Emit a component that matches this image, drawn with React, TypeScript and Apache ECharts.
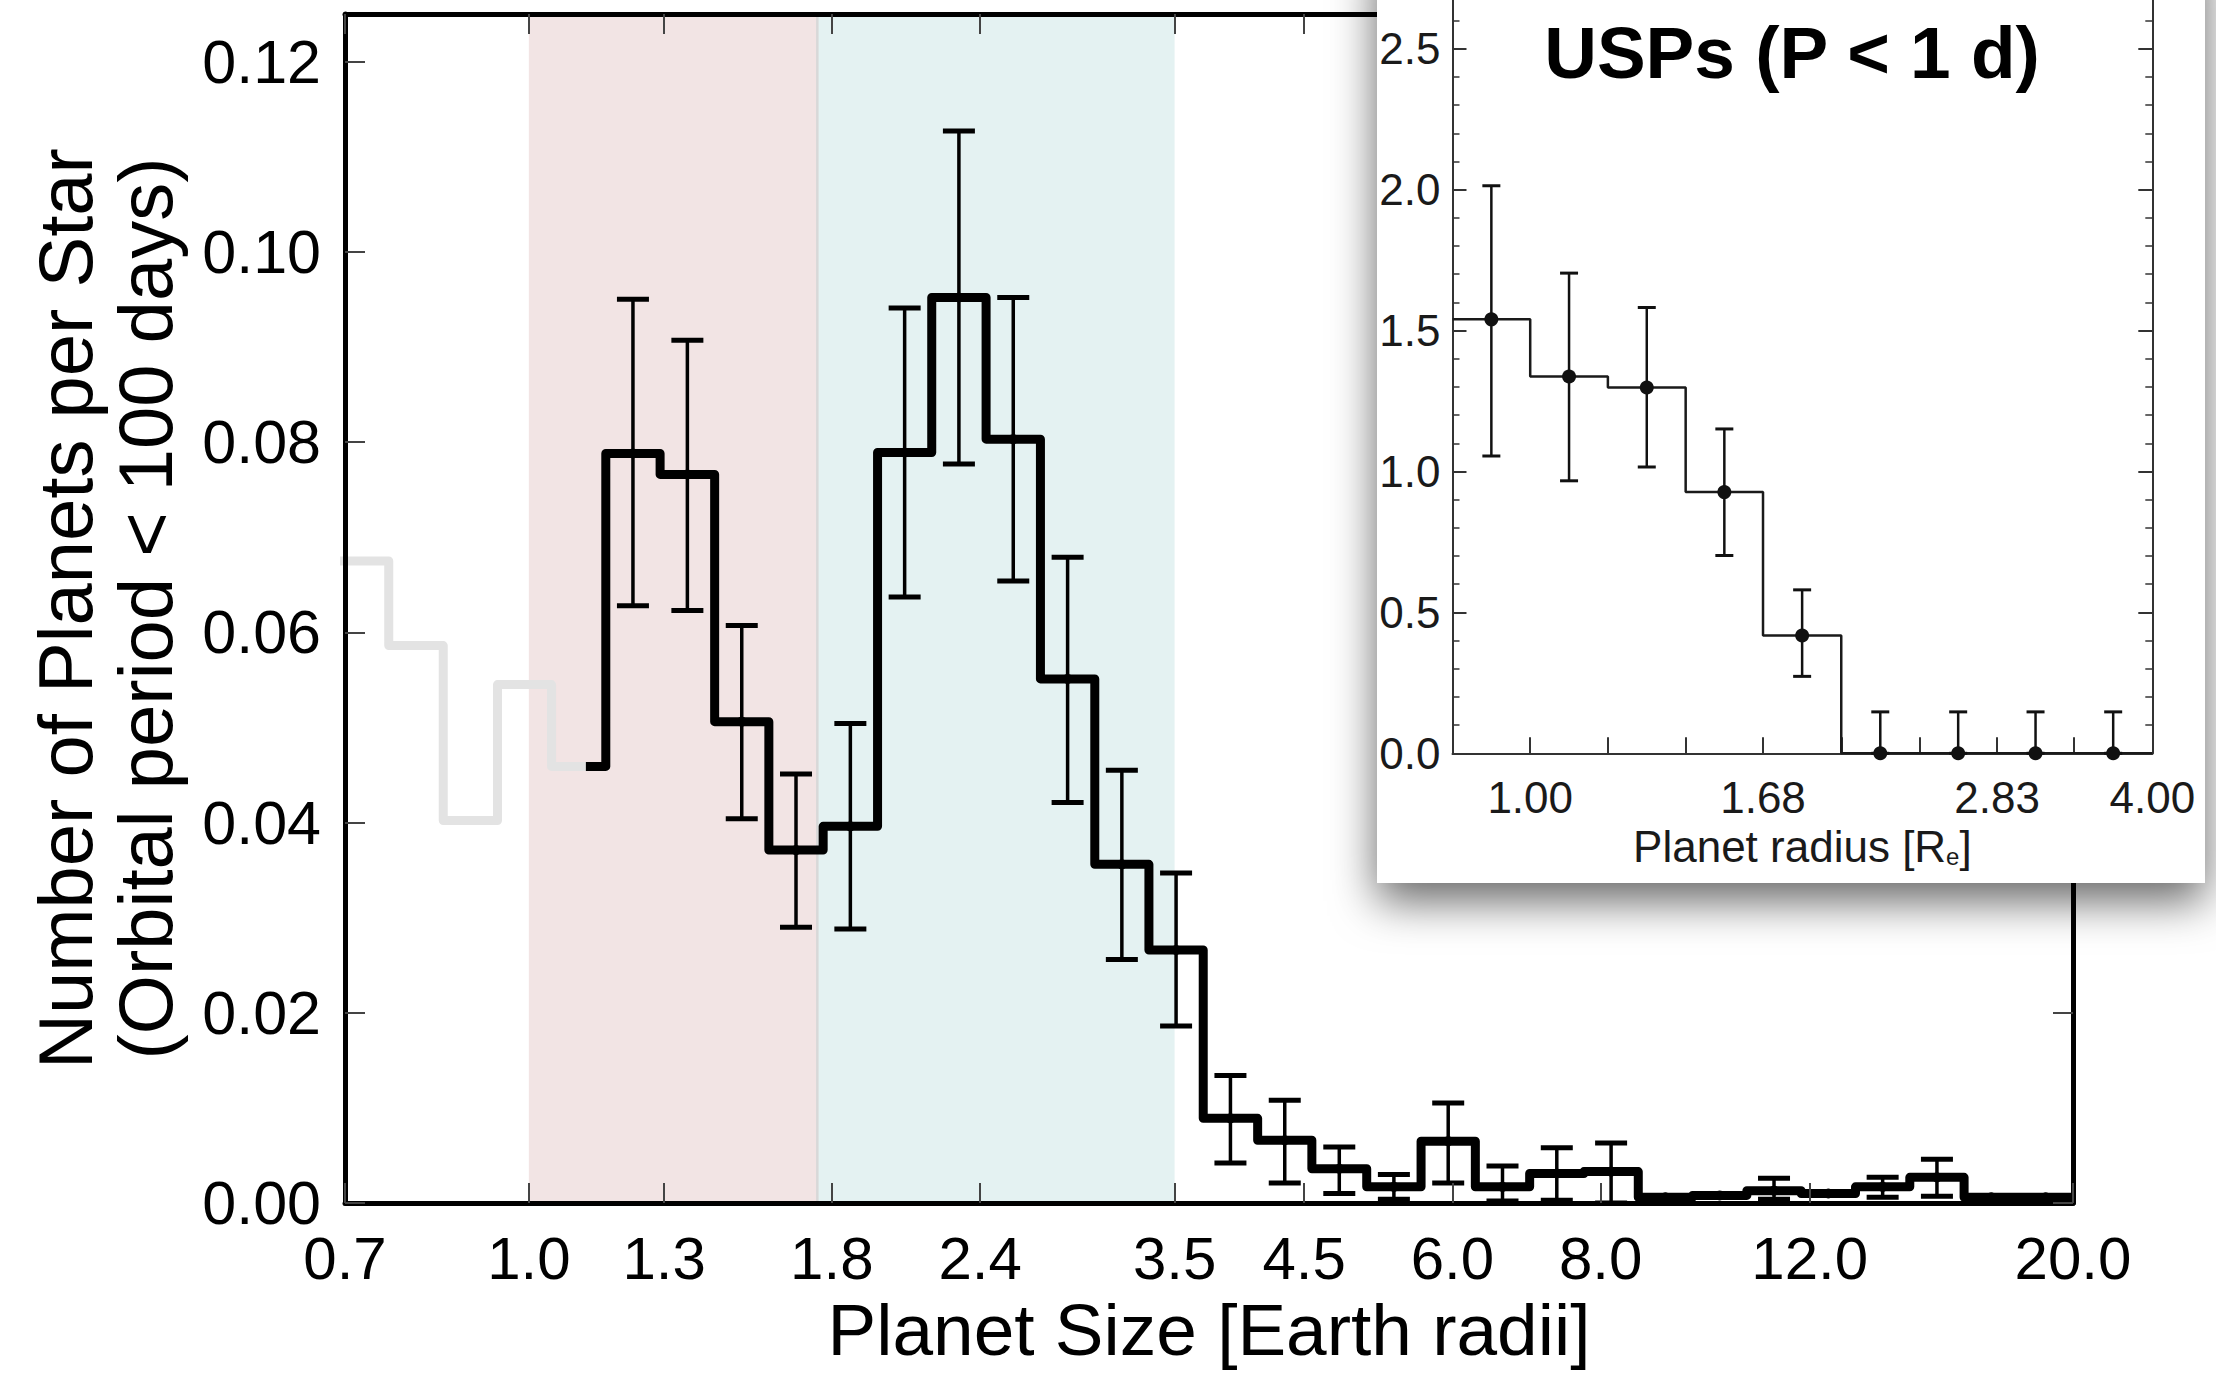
import React, { useEffect, useRef } from "react";
import * as echarts from "echarts";

const FONT = "'Liberation Sans', Arial, Helvetica, sans-serif";

// ---------- Main panel: planets per star, orbital period < 100 days ----------
const xTickValues = [0.7, 1.0, 1.3, 1.8, 2.4, 3.5, 4.5, 6.0, 8.0, 12.0, 20.0];
const yTickValues = [0, 0.02, 0.04, 0.06, 0.08, 0.1, 0.12];
const xRange = [0.7, 20.0];
const yRange = [0, 0.125];

// shaded size classes (super-Earths / sub-Neptunes)
const bandRanges = [
  [1.0, 1.75],
  [1.75, 3.5],
];
const bandColors = ["#f2e4e4", "#e4f2f2"];

// low-completeness bins (gray)
const grayEdges = [0.686, 0.762, 0.847, 0.941, 1.045, 1.161];
const grayValues = [0.0675, 0.0586, 0.0402, 0.0545, 0.0459];
const blackStart = 1.117;

// main histogram (black)
const binEdges = [
  1.161, 1.29, 1.434, 1.593, 1.77, 1.967, 2.185, 2.428, 2.698, 2.998, 3.33,
  3.7, 4.112, 4.568, 5.081, 5.646, 6.273, 6.97, 7.744, 8.605, 9.561, 10.623,
  11.803, 13.115, 14.572, 16.191, 17.99, 20.0,
];
const binValues = [
  0.0788, 0.0766, 0.0506, 0.0371, 0.0396, 0.0789, 0.0952, 0.0803, 0.0551,
  0.0356, 0.0266, 0.0089, 0.0066, 0.0036, 0.0017, 0.0065, 0.0017, 0.0031,
  0.0033, 0.0006, 0.0008, 0.0013, 0.001, 0.0017, 0.0027, 0.0006, 0.0006,
];
const errLow = [
  0.0628, 0.0623, 0.0404, 0.029, 0.0288, 0.0637, 0.0777, 0.0654, 0.0421,
  0.0256, 0.0186, 0.0042, 0.0021, 0.001, 0.0004, 0.0021, 0.0002, 0.0003, 0.0,
  null, null, 0.0004, null, 0.0006, 0.0007, null, null,
];
const errHigh = [
  0.095, 0.0907, 0.0607, 0.0451, 0.0504, 0.0941, 0.1127, 0.0952, 0.0679,
  0.0455, 0.0347, 0.0134, 0.0108, 0.0059, 0.003, 0.0105, 0.0039, 0.0058,
  0.0063, null, null, 0.0026, null, 0.0027, 0.0046, null, null,
];

// ---------- Inset: USPs (P < 1 d) ----------
const uspEdges = [0.841, 1.0, 1.189, 1.414, 1.68, 2.0, 2.38, 2.83, 3.36, 4.0];
const uspValues = [1.54, 1.337, 1.298, 0.927, 0.418, 0, 0, 0, 0];
const uspLow = [1.055, 0.967, 1.016, 0.702, 0.273, 0, 0, 0, 0];
const uspHigh = [2.014, 1.704, 1.582, 1.151, 0.58, 0.147, 0.147, 0.147, 0.147];
const uspXLabels = [1.0, 1.68, 2.83, 4.0];
const uspYLabels = [0, 0.5, 1.0, 1.5, 2.0, 2.5];
const uspYRange = [0, 3.0];

const L = (v: number) => Math.log10(v);

function stepPoints(edges: number[], values: number[]) {
  const pts: number[][] = [];
  values.forEach((v, i) => {
    pts.push([L(edges[i]), v]);
    pts.push([L(edges[i + 1]), v]);
  });
  return pts;
}

function centers(edges: number[]) {
  return edges.slice(0, -1).map((e, i) => Math.sqrt(e * edges[i + 1]));
}

function makeErrRender(
  lows: (number | null)[],
  highs: (number | null)[],
  o: { lw: number; capHalf: number; capW: number; r: number; color: string }
) {
  return (params: any, api: any) => {
    const i = params.dataIndex;
    const x = api.value(0);
    const v = api.value(1);
    const pV = api.coord([x, v]);
    const children: any[] = [];
    const lo = lows[i];
    const hi = highs[i];
    if (lo != null && hi != null) {
      const pLo = api.coord([x, lo]);
      const pHi = api.coord([x, hi]);
      children.push({
        type: "line",
        shape: { x1: pLo[0], y1: pLo[1], x2: pHi[0], y2: pHi[1] },
        style: { stroke: o.color, lineWidth: o.lw },
      });
      children.push({
        type: "line",
        shape: { x1: pLo[0] - o.capHalf, y1: pLo[1], x2: pLo[0] + o.capHalf, y2: pLo[1] },
        style: { stroke: o.color, lineWidth: o.capW },
      });
      children.push({
        type: "line",
        shape: { x1: pHi[0] - o.capHalf, y1: pHi[1], x2: pHi[0] + o.capHalf, y2: pHi[1] },
        style: { stroke: o.color, lineWidth: o.capW },
      });
    }
    children.push({
      type: "circle",
      shape: { cx: pV[0], cy: pV[1], r: o.r },
      style: { fill: o.color },
    });
    return { type: "group", children };
  };
}

export default function App() {
  const ref = useRef<HTMLDivElement>(null);

  useEffect(() => {
    document.body.style.margin = "0";
    if (!ref.current) return;
    const chart = echarts.init(ref.current, null, { renderer: "svg" });

    const mainCenters = centers(binEdges);
    const uspCenters = centers(uspEdges);

    const lastGray = grayValues[grayValues.length - 1];
    const grayPts = stepPoints(grayEdges, grayValues);
    const blackPts = [
      [L(blackStart), lastGray],
      [L(binEdges[0]), lastGray],
      ...stepPoints(binEdges, binValues),
    ];
    const uspPts = stepPoints(uspEdges, uspValues);

    const mainAxisLine = { show: true, onZero: false, lineStyle: { color: "#000", width: 5 } };
    const mainTick = (vals: number[]) => ({
      show: true,
      inside: true,
      length: 20,
      customValues: vals,
      lineStyle: { color: "#444", width: 2 },
    });
    const insetLine = { show: true, onZero: false, lineStyle: { color: "#333", width: 2 } };

    const option: any = {
      animation: false,
      backgroundColor: "#fff",
      grid: [
        {
          left: 345,
          top: 14,
          width: 1728,
          height: 1189,
          containLabel: false,
          outerBoundsMode: "none",
        },
        {
          left: 1452.5,
          top: -92.1,
          width: 699.8,
          height: 845.4,
          containLabel: false,
          outerBoundsMode: "none",
        },
      ],
      xAxis: [
        {
          gridIndex: 0,
          type: "value",
          position: "bottom",
          min: L(xRange[0]),
          max: L(xRange[1]),
          z: 5,
          axisLine: mainAxisLine,
          axisTick: mainTick(xTickValues.map(L)),
          splitLine: { show: false },
          axisLabel: {
            customValues: xTickValues.map(L),
            formatter: (v: number) => Math.pow(10, v).toFixed(1),
            fontSize: 60,
            fontFamily: FONT,
            color: "#000",
            margin: 25,
          },
          name: "Planet Size [Earth radii]",
          nameLocation: "middle",
          nameGap: 88,
          nameTextStyle: { fontSize: 73, lineHeight: 72, fontFamily: FONT, color: "#000" },
        },
        {
          gridIndex: 0,
          type: "value",
          position: "top",
          min: L(xRange[0]),
          max: L(xRange[1]),
          z: 5,
          axisLine: mainAxisLine,
          axisTick: mainTick(xTickValues.map(L)),
          splitLine: { show: false },
          axisLabel: { show: false },
        },
        {
          gridIndex: 1,
          type: "value",
          position: "bottom",
          min: L(uspEdges[0]),
          max: L(uspEdges[uspEdges.length - 1]),
          z: 15,
          axisLine: insetLine,
          axisTick: {
            show: true,
            inside: true,
            length: 16,
            customValues: uspEdges.slice(1, -1).map(L),
            lineStyle: { color: "#333", width: 2 },
          },
          splitLine: { show: false },
          axisLabel: {
            customValues: uspXLabels.map(L),
            formatter: (v: number) => Math.pow(10, v).toFixed(2),
            fontSize: 44,
            fontFamily: FONT,
            color: "#1a1a1a",
            margin: 22,
          },
          name: "Planet radius [R{sub|e}]",
          nameLocation: "middle",
          nameGap: 70,
          nameTextStyle: {
            fontSize: 44,
            fontFamily: FONT,
            color: "#1a1a1a",
            lineHeight: 44,
            rich: {
              sub: {
                fontSize: 24,
                fontFamily: FONT,
                color: "#1a1a1a",
                lineHeight: 18,
                verticalAlign: "bottom",
              },
            },
          },
        },
      ],
      yAxis: [
        {
          gridIndex: 0,
          type: "value",
          position: "left",
          min: yRange[0],
          max: yRange[1],
          z: 5,
          axisLine: mainAxisLine,
          axisTick: mainTick(yTickValues),
          splitLine: { show: false },
          axisLabel: {
            customValues: yTickValues,
            formatter: (v: number) => v.toFixed(2),
            fontSize: 61,
            fontFamily: FONT,
            color: "#000",
            margin: 24,
          },
          name: "Number of Planets per Star\n(Orbital period < 100 days)",
          nameLocation: "middle",
          nameGap: 160,
          nameTextStyle: { fontSize: 76, lineHeight: 80, fontFamily: FONT, color: "#000" },
        },
        {
          gridIndex: 0,
          type: "value",
          position: "right",
          min: yRange[0],
          max: yRange[1],
          z: 5,
          axisLine: mainAxisLine,
          axisTick: mainTick(yTickValues),
          splitLine: { show: false },
          axisLabel: { show: false },
        },
        {
          gridIndex: 1,
          type: "value",
          position: "left",
          min: uspYRange[0],
          max: uspYRange[1],
          interval: 0.5,
          z: 15,
          axisLine: insetLine,
          axisTick: { show: true, inside: true, length: 14, lineStyle: { color: "#333", width: 2 } },
          minorTick: { show: true, splitNumber: 5, length: 7, lineStyle: { color: "#333", width: 1.5 } },
          splitLine: { show: false },
          axisLabel: {
            customValues: uspYLabels,
            formatter: (v: number) => v.toFixed(1),
            fontSize: 44,
            fontFamily: FONT,
            color: "#1a1a1a",
            margin: 12,
          },
        },
        {
          gridIndex: 1,
          type: "value",
          position: "right",
          min: uspYRange[0],
          max: uspYRange[1],
          interval: 0.5,
          z: 15,
          axisLine: insetLine,
          axisTick: { show: true, inside: true, length: 14, lineStyle: { color: "#333", width: 2 } },
          minorTick: { show: true, splitNumber: 5, length: 7, lineStyle: { color: "#333", width: 1.5 } },
          splitLine: { show: false },
          axisLabel: { show: false },
        },
      ],
      series: [
        {
          type: "custom",
          name: "bands",
          xAxisIndex: 0,
          yAxisIndex: 0,
          z: 1,
          data: bandRanges.map((b) => [L(b[0]), L(b[1]), 0]),
          encode: { x: [0, 1], y: 2 },
          renderItem: (params: any, api: any) => {
            const cs = params.coordSys;
            const x0 = api.coord([api.value(0), 0])[0];
            const x1 = api.coord([api.value(1), 0])[0];
            const children: any[] = [
              {
                type: "rect",
                shape: { x: x0, y: cs.y, width: x1 - x0, height: cs.height },
                style: { fill: bandColors[params.dataIndex] },
              },
            ];
            if (params.dataIndex === 1) {
              children.push({
                type: "line",
                shape: { x1: x0, y1: cs.y, x2: x0, y2: cs.y + cs.height },
                style: { stroke: "#d8d8d8", lineWidth: 2.5 },
              });
            }
            return { type: "group", children };
          },
        },
        {
          type: "line",
          name: "low completeness",
          xAxisIndex: 0,
          yAxisIndex: 0,
          z: 2,
          data: grayPts,
          symbol: "none",
          clip: true,
          lineStyle: { color: "#e3e3e3", width: 9, join: "round", cap: "round" },
        },
        {
          type: "line",
          name: "histogram",
          xAxisIndex: 0,
          yAxisIndex: 0,
          z: 3,
          data: blackPts,
          symbol: "none",
          clip: true,
          lineStyle: { color: "#000", width: 9, join: "round", cap: "butt" },
        },
        {
          type: "custom",
          name: "errors",
          xAxisIndex: 0,
          yAxisIndex: 0,
          z: 4,
          data: binValues.map((v, i) => [L(mainCenters[i]), v]),
          encode: { x: 0, y: 1 },
          renderItem: makeErrRender(errLow, errHigh, {
            lw: 3.5,
            capHalf: 16,
            capW: 5,
            r: 5,
            color: "#000",
          }),
        },
        {
          type: "line",
          name: "usp histogram",
          xAxisIndex: 2,
          yAxisIndex: 2,
          z: 21,
          data: uspPts,
          symbol: "none",
          clip: true,
          lineStyle: { color: "#1a1a1a", width: 2.5 },
        },
        {
          type: "custom",
          name: "usp errors",
          xAxisIndex: 2,
          yAxisIndex: 2,
          z: 22,
          data: uspValues.map((v, i) => [L(uspCenters[i]), v]),
          encode: { x: 0, y: 1 },
          renderItem: makeErrRender(uspLow, uspHigh, {
            lw: 2.5,
            capHalf: 9,
            capW: 3,
            r: 7,
            color: "#111",
          }),
        },
      ],
      graphic: [
        {
          type: "rect",
          z: 10,
          shape: { x: 1377, y: -60, width: 828, height: 943 },
          style: {
            fill: "#fff",
            shadowBlur: 45,
            shadowColor: "rgba(0,0,0,0.6)",
            shadowOffsetX: 0,
            shadowOffsetY: 18,
          },
        },
        {
          type: "text",
          z: 30,
          x: 1792,
          y: 52,
          style: {
            text: "USPs (P < 1 d)",
            fontSize: 73,
            fontWeight: "bold",
            fontFamily: FONT,
            fill: "#000",
            align: "center",
            verticalAlign: "middle",
          },
        },
      ],
    };

    chart.setOption(option);
    return () => chart.dispose();
  }, []);

  return <div ref={ref} style={{ width: 2216, height: 1373 }} />;
}
